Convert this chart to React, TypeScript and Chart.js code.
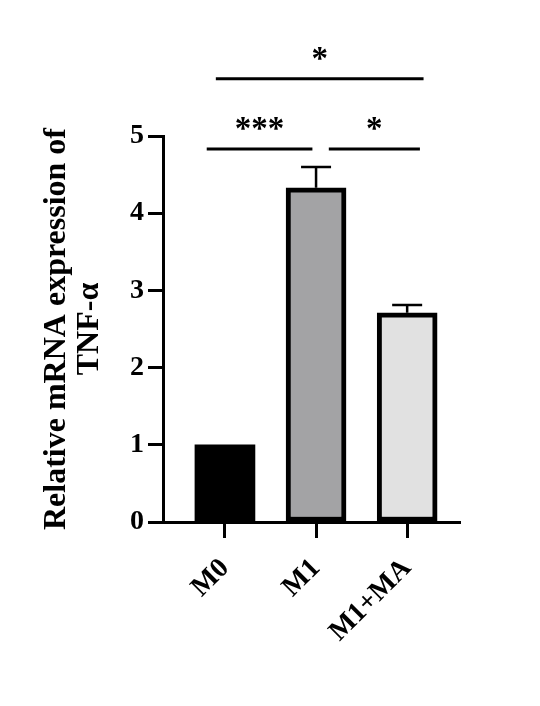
import React, { useEffect, useRef } from 'react';
import { Chart, registerables } from 'chart.js';
Chart.register(...registerables);

const categories = ['M0', 'M1', 'M1+MA'];
const means = [1.0, 4.33, 2.71];
const errors = [0, 0.27, 0.1];
const fillColors = ['#000000', '#a3a3a5', '#e1e1e1'];
const borderWidths = [0, 5, 5];
const yTicks = [0, 1, 2, 3, 4, 5];
const yTitle = ['Relative mRNA expression of', 'TNF-α'];
const brackets = [
  { from: -0.2, to: 0.96, y: 4.83, label: '***' },
  { from: 1.14, to: 2.14, y: 4.83, label: '*' },
  { from: -0.1, to: 2.18, y: 5.74, label: '*' },
];

const FONT = '"Liberation Serif", "Times New Roman", serif';

const annotPlugin = {
  id: 'annot',
  afterDatasetsDraw(chart: any) {
    const { ctx, scales } = chart;
    const x = scales.x;
    const y = scales.y;
    ctx.save();
    ctx.strokeStyle = '#000';
    ctx.fillStyle = '#000';
    ctx.lineWidth = 2.5;
    means.forEach((m, i) => {
      const e = errors[i];
      if (!e) return;
      const px = x.getPixelForValue(i);
      const top = y.getPixelForValue(m + e);
      const base = y.getPixelForValue(m);
      ctx.beginPath();
      ctx.moveTo(px, base);
      ctx.lineTo(px, top);
      ctx.moveTo(px - 15, top);
      ctx.lineTo(px + 15, top);
      ctx.stroke();
    });
    ctx.lineWidth = 3;
    ctx.font = `bold 33px ${FONT}`;
    ctx.textAlign = 'center';
    ctx.textBaseline = 'alphabetic';
    brackets.forEach((b) => {
      const x1 = x.getPixelForValue(b.from);
      const x2 = x.getPixelForValue(b.to);
      const py = y.getPixelForValue(b.y);
      ctx.beginPath();
      ctx.moveTo(x1, py);
      ctx.lineTo(x2, py);
      ctx.stroke();
      ctx.fillText(b.label, (x1 + x2) / 2, py - 10);
    });
    ctx.restore();
  },
};

export default function App() {
  const ref = useRef<HTMLCanvasElement | null>(null);
  useEffect(() => {
    if (!ref.current) return;
    const chart = new Chart(ref.current, {
      type: 'bar',
      data: {
        datasets: [
          {
            data: categories.map((c, i) => ({ x: i, y: means[i] })),
            backgroundColor: fillColors,
            borderColor: '#000',
            borderWidth: borderWidths,
            borderSkipped: false,
            barThickness: 60,
          } as any,
        ],
      },
      options: {
        responsive: false,
        animation: false,
        events: [],
        layout: { padding: { left: 0, top: 136, right: 80, bottom: 0 } },
        plugins: { legend: { display: false }, tooltip: { enabled: false } },
        scales: {
          x: {
            type: 'linear',
            offset: false,
            min: -0.68,
            max: 2.58,
            afterBuildTicks: (s: any) => {
              s.ticks = categories.map((c, i) => ({ value: i }));
            },
            afterFit: (s: any) => {
              s.height = 184;
            },
            ticks: {
              callback: (v: any) => categories[v as number] ?? '',
              minRotation: 45,
              maxRotation: 45,
              color: '#000',
              padding: 14,
              font: { family: FONT, size: 28, weight: 'bold' },
            },
            grid: {
              display: true,
              offset: false,
              drawOnChartArea: false,
              drawTicks: true,
              tickLength: 16,
              tickWidth: 3,
              tickColor: '#000',
            },
            border: { display: true, width: 3, color: '#000' },
          },
          y: {
            type: 'linear',
            min: 0,
            max: 5,
            afterBuildTicks: (s: any) => {
              s.ticks = yTicks.map((v) => ({ value: v }));
            },
            afterFit: (s: any) => {
              s.width = 163;
            },
            ticks: {
              color: '#000',
              padding: 4,
              font: { family: FONT, size: 28, weight: 'bold' },
            },
            grid: {
              display: true,
              drawOnChartArea: false,
              drawTicks: true,
              tickLength: 15,
              tickWidth: 3,
              tickColor: '#000',
            },
            border: { display: true, width: 3, color: '#000' },
            title: {
              display: true,
              text: yTitle,
              color: '#000',
              padding: { top: 40, bottom: 0 },
              font: { family: FONT, size: 32, weight: 'bold', lineHeight: 1.03 },
            },
          },
        },
      } as any,
      plugins: [annotPlugin],
    });
    return () => chart.destroy();
  }, []);
  return (
    <div style={{ position: 'absolute', left: 0, top: 0, width: 540, height: 706, background: '#fff' }}>
      <canvas ref={ref} width={540} height={706} />
    </div>
  );
}
